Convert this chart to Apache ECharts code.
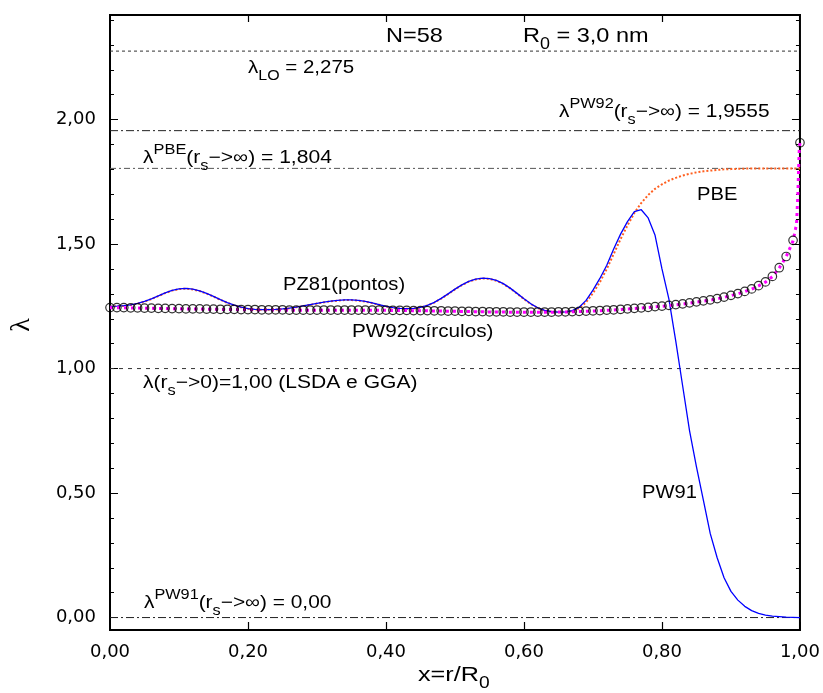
<!DOCTYPE html>
<html>
<head>
<meta charset="utf-8">
<script src="https://cdn.jsdelivr.net/npm/echarts@6/dist/echarts.min.js"></script>
<style>
html,body{margin:0;padding:0;background:#fff;}
#chart{width:823px;height:693px;}
</style>
</head>
<body>
<div id="chart"></div>
<script>
// ---------------- DATA ----------------
const xGrid = [0.00,0.01,0.02,0.03,0.04,0.05,0.06,0.07,0.08,0.09,
  0.10,0.11,0.12,0.13,0.14,0.15,0.16,0.17,0.18,0.19,
  0.20,0.21,0.22,0.23,0.24,0.25,0.26,0.27,0.28,0.29,
  0.30,0.31,0.32,0.33,0.34,0.35,0.36,0.37,0.38,0.39,
  0.40,0.41,0.42,0.43,0.44,0.45,0.46,0.47,0.48,0.49,
  0.50,0.51,0.52,0.53,0.54,0.55,0.56,0.57,0.58,0.59,
  0.60,0.61,0.62,0.63,0.64,0.65,0.66,0.67,0.68,0.69,
  0.70,0.71,0.72,0.73,0.74,0.75,0.76,0.77,0.78,0.79,
  0.80,0.81,0.82,0.83,0.84,0.85,0.86,0.87,0.88,0.89,
  0.90,0.91,0.92,0.93,0.94,0.95,0.96,0.97,0.98,0.99,1.00];

// PW91 (blue solid)
const pw91 = [1.250,1.251,1.253,1.256,1.262,1.270,1.280,1.292,1.304,1.314,
  1.320,1.322,1.319,1.312,1.302,1.290,1.277,1.265,1.255,1.247,
  1.241,1.238,1.237,1.237,1.238,1.240,1.243,1.247,1.252,1.257,
  1.262,1.267,1.271,1.274,1.276,1.276,1.274,1.270,1.264,1.257,
  1.250,1.245,1.242,1.241,1.242,1.246,1.254,1.266,1.282,1.300,
  1.319,1.336,1.350,1.359,1.363,1.361,1.354,1.341,1.323,1.302,
  1.280,1.260,1.244,1.234,1.229,1.227,1.228,1.233,1.246,1.274,
  1.315,1.362,1.415,1.480,1.540,1.590,1.630,1.638,1.605,1.535,
  1.400,1.280,1.110,0.930,0.750,0.605,0.472,0.337,0.240,0.160,
  0.105,0.070,0.045,0.028,0.017,0.010,0.006,0.004,0.002,0.001,0.000];

// PBE (orange dotted)
const pbe = [1.249,1.250,1.252,1.255,1.261,1.269,1.279,1.291,1.303,1.313,
  1.319,1.321,1.318,1.311,1.301,1.289,1.276,1.264,1.254,1.246,
  1.240,1.237,1.236,1.236,1.237,1.239,1.242,1.246,1.251,1.256,
  1.261,1.266,1.270,1.273,1.275,1.275,1.273,1.269,1.263,1.256,
  1.249,1.244,1.241,1.240,1.241,1.245,1.253,1.265,1.281,1.299,
  1.318,1.335,1.349,1.358,1.362,1.360,1.353,1.340,1.322,1.301,
  1.279,1.259,1.243,1.233,1.228,1.226,1.227,1.231,1.242,1.266,
  1.303,1.347,1.400,1.460,1.520,1.575,1.625,1.665,1.697,1.722,
  1.740,1.755,1.766,1.775,1.782,1.788,1.792,1.795,1.798,1.800,
  1.801,1.802,1.803,1.804,1.804,1.804,1.804,1.804,1.804,1.804,1.804];

// PZ81 (magenta dots)
const pz81X = [0.00,0.01,0.02,0.03,0.04,0.05,0.06,0.07,0.08,0.09,
  0.10,0.11,0.12,0.13,0.14,0.15,0.16,0.17,0.18,0.19,
  0.20,0.21,0.22,0.23,0.24,0.25,0.26,0.27,0.28,0.29,
  0.30,0.31,0.32,0.33,0.34,0.35,0.36,0.37,0.38,0.39,
  0.40,0.41,0.42,0.43,0.44,0.45,0.46,0.47,0.48,0.49,
  0.50,0.51,0.52,0.53,0.54,0.55,0.56,0.57,0.58,0.59,
  0.60,0.61,0.62,0.63,0.64,0.65,0.66,0.67,0.68,0.69,
  0.70,0.71,0.72,0.73,0.74,0.75,0.76,0.77,0.78,0.79,
  0.80,0.81,0.82,0.83,0.84,0.85,0.86,0.87,0.88,0.89,
  0.90,0.91,0.92,0.93,0.94,0.95,0.96,0.97,0.98,0.99,
  0.995,0.997,0.998,0.999,1.00];
const pz81 = [1.244,1.244,1.244,1.243,1.243,1.242,1.242,1.241,1.241,1.240,
  1.240,1.239,1.239,1.239,1.238,1.238,1.237,1.237,1.237,1.236,
  1.236,1.236,1.235,1.235,1.235,1.235,1.234,1.234,1.234,1.234,
  1.234,1.234,1.234,1.234,1.234,1.234,1.234,1.234,1.234,1.234,
  1.234,1.233,1.233,1.233,1.232,1.232,1.232,1.231,1.231,1.230,
  1.230,1.229,1.229,1.228,1.228,1.227,1.227,1.227,1.226,1.226,
  1.226,1.226,1.226,1.226,1.226,1.227,1.227,1.228,1.229,1.230,
  1.231,1.232,1.234,1.235,1.237,1.239,1.241,1.243,1.245,1.248,
  1.250,1.253,1.256,1.259,1.263,1.267,1.271,1.275,1.280,1.286,
  1.293,1.300,1.309,1.319,1.332,1.347,1.369,1.404,1.449,1.513,
  1.580,1.700,1.800,1.880,1.907];

// PW92 (open circles)
const pw92 = [1.245,1.245,1.245,1.244,1.244,1.243,1.243,1.242,1.242,1.241,
  1.241,1.240,1.240,1.240,1.239,1.239,1.238,1.238,1.238,1.237,
  1.237,1.237,1.236,1.236,1.236,1.236,1.235,1.235,1.235,1.235,
  1.235,1.235,1.235,1.235,1.235,1.235,1.235,1.235,1.235,1.235,
  1.235,1.234,1.234,1.234,1.233,1.233,1.233,1.232,1.232,1.231,
  1.231,1.230,1.230,1.229,1.229,1.228,1.228,1.228,1.227,1.227,
  1.227,1.227,1.227,1.227,1.227,1.228,1.228,1.229,1.230,1.231,
  1.232,1.233,1.235,1.236,1.238,1.240,1.242,1.244,1.246,1.249,
  1.251,1.254,1.257,1.260,1.264,1.268,1.272,1.276,1.281,1.287,
  1.294,1.301,1.310,1.320,1.333,1.348,1.370,1.405,1.450,1.515,1.907];

// Reference levels
const lambdaLO = 2.275;
const lambdaPW92inf = 1.9555;
const lambdaPBEinf = 1.804;
const lambdaZero = 1.00;
const lambdaPW91inf = 0.00;

// Axis ticks
const xTicks = [0.20,0.40,0.60,0.80];
const yMajor = [0.00,0.50,1.00,1.50,2.00];
const yMinor = [0.10,0.20,0.30,0.40,0.60,0.70,0.80,0.90,1.10,1.20,1.30,1.40,1.60,1.70,1.80,1.90,2.10,2.20,2.30,2.40];
const yRange = [-0.05, 2.42];

// ---------------- CHART ----------------
const pair = (xs, ys) => xs.map((x, i) => [x, ys[i]]);
const fmt = v => v.toFixed(2).replace('.', ',');
const TICKFONT = 'DejaVu Sans';
const TXTFONT = 'Liberation Sans, Arial, sans-serif';

function refLine(v, dash, color) {
  return {
    type: 'line', data: [[0, v], [1, v]], symbol: 'none', silent: true,
    lineStyle: { color: color || '#000', width: 1, type: dash }, z: 1
  };
}

const yBase = {
  type: 'value', min: yRange[0], max: yRange[1], splitLine: { show: false },
  axisLine: { show: false, onZero: false }
};

// x tick marks drawn at the frame through the axis scale
function renderXTick(params, api) {
  const v = api.value(0);
  const pb = api.coord([v, yRange[0]]);
  const pt = api.coord([v, yRange[1]]);
  const x = Math.round(pb[0]) + 0.5;
  return {
    type: 'group',
    children: [
      { type: 'line', shape: { x1: x, y1: pb[1], x2: x, y2: pb[1] - 8 }, style: { stroke: '#000', lineWidth: 1.2 } },
      { type: 'line', shape: { x1: x, y1: pt[1], x2: x, y2: pt[1] + 7 }, style: { stroke: '#000', lineWidth: 1.2 } }
    ]
  };
}

const option = {
  animation: false,
  backgroundColor: '#fff',
  grid: { left: 110, right: 23, top: 15, bottom: 63, containLabel: false,
          show: true, borderColor: '#000', borderWidth: 2, backgroundColor: 'transparent' },
  xAxis: [
    { type: 'value', min: 0, max: 1, interval: 0.2, position: 'bottom', splitLine: { show: false },
      axisLine: { show: true, onZero: false, lineStyle: { color: '#000', width: 2 } },
      axisTick: { show: true, inside: true, length: 8, lineStyle: { color: '#000', width: 1 } },
      axisLabel: { formatter: fmt, fontFamily: TICKFONT, fontSize: 18, color: '#000', margin: 13 } }
  ],
  yAxis: [
    Object.assign({}, yBase, { position: 'left',
      axisTick: { show: true, inside: true, length: 8, customValues: yMajor, lineStyle: { color: '#000', width: 1 } },
      axisLabel: { show: true, customValues: yMajor, formatter: fmt, fontFamily: TICKFONT, fontSize: 18, color: '#000', margin: 14 } }),
    Object.assign({}, yBase, { position: 'left',
      axisTick: { show: true, inside: true, length: 4, customValues: yMinor, lineStyle: { color: '#000', width: 1 } },
      axisLabel: { show: false } }),
    Object.assign({}, yBase, { position: 'right',
      axisTick: { show: true, inside: true, length: 8, customValues: yMajor, lineStyle: { color: '#000', width: 1 } },
      axisLabel: { show: false } }),
    Object.assign({}, yBase, { position: 'right',
      axisTick: { show: true, inside: true, length: 4, customValues: yMinor, lineStyle: { color: '#000', width: 1 } },
      axisLabel: { show: false } })
  ],
  series: [
    refLine(lambdaLO, [3, 3], '#333'),
    refLine(lambdaPW92inf, [8, 3, 2, 3], '#222'),
    refLine(lambdaPBEinf, [6, 3, 2, 3], '#555'),
    refLine(lambdaZero, [4, 5], '#333'),
    refLine(lambdaPW91inf, [8, 3, 2, 3], '#222'),
    { name: 'PBE', type: 'line', data: pair(xGrid, pbe), symbol: 'none', z: 3,
      lineStyle: { color: '#ff5f1f', width: 2, type: [2, 2] } },
    { name: 'PW91', type: 'line', data: pair(xGrid, pw91), symbol: 'none', z: 4,
      lineStyle: { color: '#0000ff', width: 1.3 } },
    { name: 'PZ81', type: 'line', data: pair(pz81X, pz81), symbol: 'none', z: 5,
      lineStyle: { color: '#ff00ff', width: 3, type: [3, 4] } },
    { name: 'PW92', type: 'scatter', data: pair(xGrid, pw92), symbol: 'circle', symbolSize: 8.5, z: 6,
      itemStyle: { color: 'rgba(0,0,0,0)', borderColor: '#000', borderWidth: 1.2 } },
    { name: 'xticks', type: 'custom', silent: true, clip: false, z: 20,
      data: xTicks.map(v => [v]), encode: { x: 0 }, renderItem: renderXTick }
  ]
};

// ---------------- ANNOTATIONS ----------------
function label(x, y, text, size, sx) {
  const s = size || 18;
  const small = Math.round(s * 0.78);
  return {
    type: 'text', x: x, y: y, scaleX: sx || 1.12, z: 100,
    style: {
      x: 0, y: 0, text: text, fill: '#000',
      fontFamily: TXTFONT, fontSize: s, verticalAlign: 'middle', align: 'left',
      rich: {
        n: { fontFamily: TXTFONT, fontSize: s, lineHeight: s + 12, fill: '#000' },
        sup: { fontFamily: TXTFONT, fontSize: small, lineHeight: small + 2, verticalAlign: 'top', fill: '#000' },
        sub: { fontFamily: TXTFONT, fontSize: small, lineHeight: small + 2, verticalAlign: 'bottom', fill: '#000' }
      }
    }
  };
}

option.graphic = [
  label(386, 36, '{n|N=58}', 21),
  label(523, 36, '{n|R}{sub|0}{n| = 3,0 nm}', 21),
  label(248, 68.5, '{n|λ}{sub|LO}{n| = 2,275}', 18, 1.14),
  label(559, 112.5, '{n|λ}{sup|PW92}{n|(r}{sub|s}{n|−>∞) = 1,9555}', 18, 1.16),
  label(143, 158.5, '{n|λ}{sup|PBE}{n|(r}{sub|s}{n|−>∞) = 1,804}', 18, 1.17),
  label(697, 195, '{n|PBE}'),
  label(283, 285, '{n|PZ81(pontos)}'),
  label(352, 332, '{n|PW92(círculos)}', 18, 1.15),
  label(143, 383.5, '{n|λ(r}{sub|s}{n|−>0)=1,00 (LSDA e GGA)}', 18, 1.17),
  label(642, 493.5, '{n|PW91}'),
  label(144, 603.5, '{n|λ}{sup|PW91}{n|(r}{sub|s}{n|−>∞) = 0,00}', 18, 1.16),
  label(418, 675.5, '{n|x=r/R}{sub|0}', 21, 1.2),
  { type: 'text', x: 22, y: 325, rotation: Math.PI / 2, z: 100,
    style: { x: 0, y: 0, text: 'λ', fill: '#000', fontFamily: 'Liberation Serif, serif', fontSize: 28,
             align: 'center', verticalAlign: 'middle' } }
];

const chart = echarts.init(document.getElementById('chart'), null, { renderer: 'canvas' });
chart.setOption(option);
</script>
</body>
</html>
